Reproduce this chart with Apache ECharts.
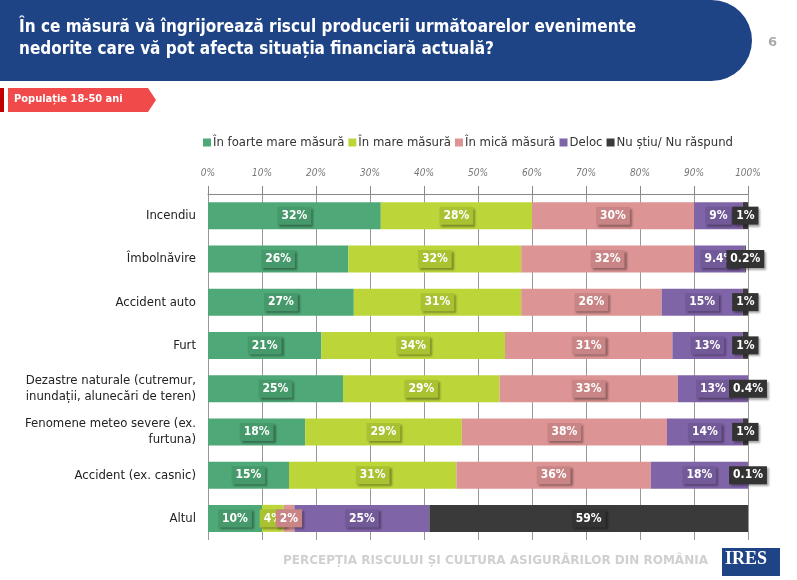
<!DOCTYPE html>
<html><head><meta charset="utf-8">
<script src="https://cdn.jsdelivr.net/npm/echarts@6/dist/echarts.min.js"></script>
<style>body{margin:0;background:#fff}#c{width:797px;height:580px}</style>
</head><body><div id="c"></div>
<script>
const categories = ['Incendiu', 'Îmbolnăvire', 'Accident auto', 'Furt',
  'Dezastre naturale (cutremur,\ninundații, alunecări de teren)',
  'Fenomene meteo severe (ex.\nfurtuna)', 'Accident (ex. casnic)', 'Altul'];
const seriesNames = ['În foarte mare măsură', 'În mare măsură', 'În mică măsură', 'Deloc', 'Nu știu/ Nu răspund'];
const foarteMare = [32, 26, 27, 21, 25, 18, 15, 10];
const mare = [28, 32, 31, 34, 29, 29, 31, 4];
const mica = [30, 32, 26, 31, 33, 38, 36, 2];
const deloc = [9, 9.4, 15, 13, 13, 14, 18, 25];
const nuStiu = [1, 0.2, 1, 1, 0.4, 1, 0.1, 59];
const tickLabels = ['0%', '10%', '20%', '30%', '40%', '50%', '60%', '70%', '80%', '90%', '100%'];

const colors = ['#4fa877', '#bcd63a', '#dc9494', '#8064a8', '#3a3a3a'];
const labelBg = ['#46996b', '#a9c232', '#c98585', '#725a98', '#333333'];
const allData = [foarteMare, mare, mica, deloc, nuStiu];

const chart = echarts.init(document.getElementById('c'));
chart.setOption({
  animation: false,
  textStyle: {fontFamily: 'DejaVu Sans Condensed, DejaVu Sans'},
  legend: {
    data: seriesNames, top: 131, left: 198, itemGap: 4, itemWidth: 8, itemHeight: 8,
    icon: 'rect', textStyle: {fontSize: 13, color: '#333', padding: [0, 0, 0, -3]}
  },
  grid: {left: 208, right: 49, top: 194, bottom: 40},
  xAxis: {
    type: 'value', position: 'top', min: 0, max: 100, interval: 10,
    axisLabel: {formatter: v => tickLabels[v / 10], fontStyle: 'italic', color: '#777', fontSize: 10, margin: 16},
    axisLine: {show: true, lineStyle: {color: '#888'}},
    axisTick: {show: true, length: 8, lineStyle: {color: '#888'}},
    splitLine: {lineStyle: {color: '#999'}}
  },
  yAxis: {
    type: 'category', data: categories, inverse: true,
    axisLine: {show: false}, axisTick: {show: false},
    axisLabel: {fontSize: 13, color: '#222', margin: 12, align: 'right', lineHeight: 16}
  },
  series: seriesNames.map((n, i) => ({
    name: n, type: 'bar', stack: 'a', barWidth: 27,
    itemStyle: {color: colors[i]},
    data: allData[i],
    label: {
      show: true, position: 'inside', color: '#fff', fontWeight: 'bold', fontSize: 12,
      formatter: p => p.value + '%',
      backgroundColor: labelBg[i], padding: [3, 4],
      shadowColor: 'rgba(0,0,0,0.35)', shadowOffsetX: 2, shadowOffsetY: 2, shadowBlur: 2
    }
  })),
  graphic: [
    {type: 'rect', shape: {x: -60, y: 0, width: 812, height: 81, r: [0, 55, 55, 0]}, style: {fill: '#1f4486'}},
    {type: 'text', left: 19, top: 17, style: {text: 'În ce măsură vă îngrijorează riscul producerii următoarelor evenimente\nnedorite care vă pot afecta situația financiară actuală?', fill: '#fff', font: 'bold 17px DejaVu Sans Condensed', lineHeight: 22}},
    {type: 'text', left: 768, top: 36, style: {text: '6', fill: '#aaa', font: 'bold 13px DejaVu Sans'}},
    {type: 'rect', shape: {x: 0, y: 88, width: 4, height: 24}, style: {fill: '#c00000'}},
    {type: 'polygon', shape: {points: [[8, 88], [148, 88], [156, 100], [148, 112], [8, 112]]}, style: {fill: '#f04a4a'}},
    {type: 'text', left: 14, top: 94, style: {text: 'Populație 18-50 ani', fill: '#fff', font: 'bold 11px DejaVu Sans Condensed'}},
    {type: 'text', left: 283, top: 555, style: {text: 'PERCEPȚIA RISCULUI ȘI CULTURA ASIGURĂRILOR DIN ROMÂNIA', fill: '#d0d0d0', font: 'bold 12px DejaVu Sans'}},
    {type: 'rect', shape: {x: 722, y: 548, width: 58, height: 28}, style: {fill: '#1f4486'}},
    {type: 'text', left: 725, top: 550, style: {text: 'IRES', fill: '#fff', font: 'bold 18px Liberation Serif'}}
  ]
});
</script></body></html>
